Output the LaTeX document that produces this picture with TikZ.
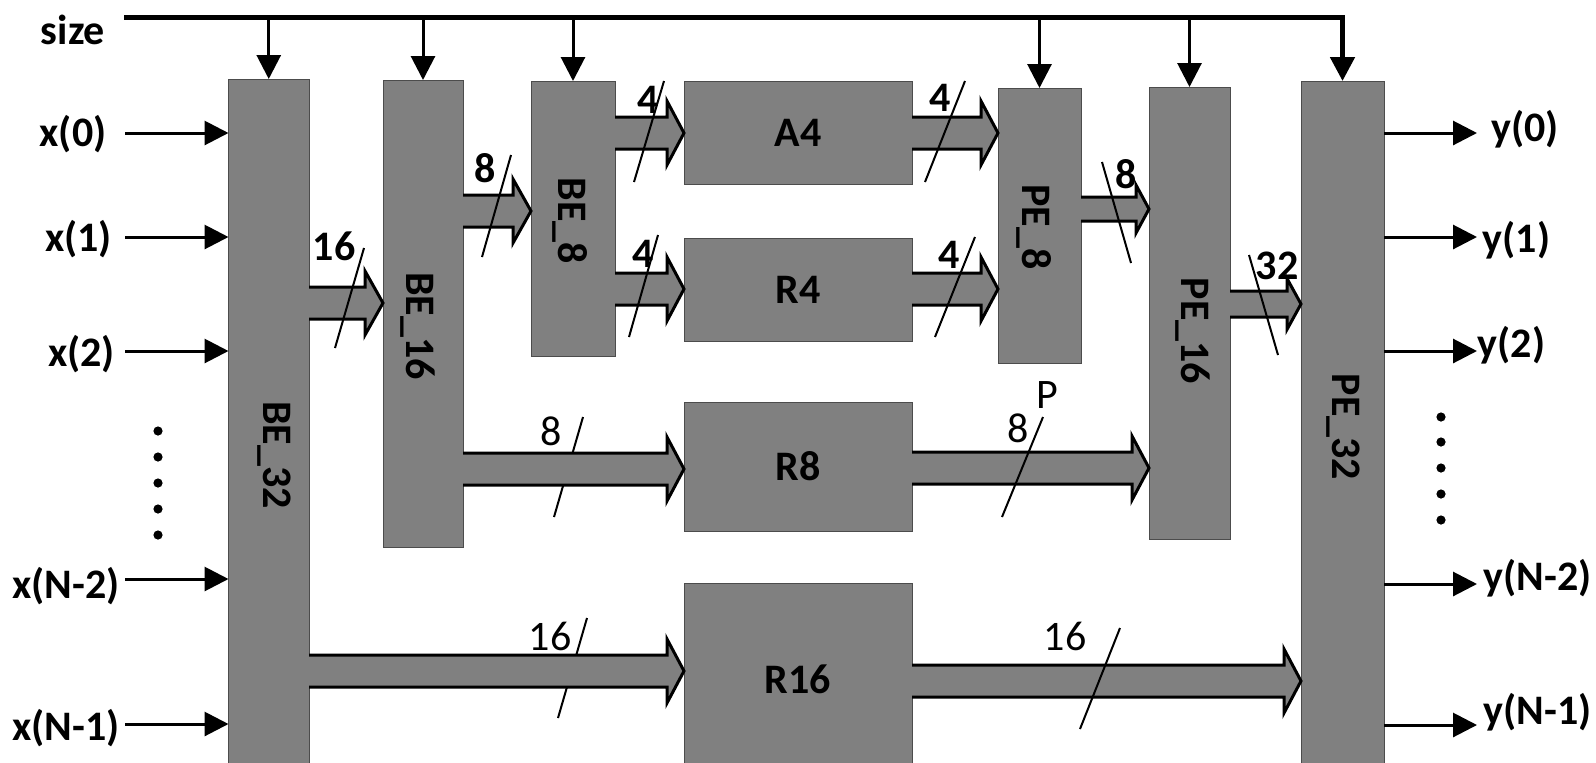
\documentclass[tikz,border=0pt]{standalone}
\usepackage{fontspec}
\setmainfont{Carlito}
\usetikzlibrary{arrows.meta, calc}

% wide arrow between two blocks: from, to, y, half shaft, half head, head length
\newcommand{\fatarrow}[6]{%
  \draw[fat] let \p1=(#1.east |- 0,#3), \p2=(#2.west |- 0,#3) in
    (\x1,\y1+#4) -- (\x2-#6,\y1+#4) -- (\x2-#6,\y1+#5) -- (\x2,\y1)
    -- (\x2-#6,\y1-#5) -- (\x2-#6,\y1-#4) -- (\x1,\y1-#4);}

\begin{document}
\begin{tikzpicture}[
    x=0.5pt, y=-0.5pt,
    blk/.style={draw=black!70, line width=0.5pt, fill=gray, inner sep=0pt, outer sep=0pt, font=\fontsize{21}{25}\selectfont\bfseries},
    lbl/.style={inner sep=0pt, font=\fontsize{21}{25}\selectfont\bfseries},
    numr/.style={inner sep=0pt, font=\fontsize{21}{25}\selectfont},
    wire/.style={line width=1.5pt, -{Triangle[length=12pt, width=12pt]}},
    fat/.style={draw, line width=1.5pt, fill=gray, line join=miter},
    slash/.style={line width=1pt}
]
  \useasboundingbox (0,0) rectangle (1596,762);
  \clip (0,0) rectangle (1596,762);

  % Butterfly stages
  \node[blk, minimum width=40.25pt, minimum height=348pt] (be32) at (268.75,427) {};
  \node[blk, minimum width=40pt, minimum height=233.5pt] (be16) at (423,313.5) {};
  \node[blk, minimum width=42pt, minimum height=137.5pt] (be8) at (573,218.5) {};

  % Kernels
  \node[blk, minimum width=114pt, minimum height=51.5pt] (a4) at (798,132.5) {A4};
  \node[blk, minimum width=114pt, minimum height=51.5pt] (r4) at (798,289.5) {R4};
  \node[blk, minimum width=114pt, minimum height=64.5pt] (r8) at (798,466.5) {R8};
  \node[blk, minimum width=114pt, minimum height=96pt] (r16) at (798,679) {R16};

  % Permutation stages
  \node[blk, minimum width=41.5pt, minimum height=137.5pt] (pe8) at (1039.5,225.5) {};
  \node[blk, minimum width=40.5pt, minimum height=226pt] (pe16) at (1189.5,313) {};
  \node[blk, minimum width=41.5pt, minimum height=347pt] (pe32) at (1342.5,428) {};

  \node[lbl, rotate=-90] (tbe32) at (274,455) {BE\_32};
  \node[lbl, rotate=-90] (tbe16) at (418,326) {BE\_16};
  \node[lbl, rotate=-90] (tbe8) at (570,221) {BE\_8};
  \node[lbl, rotate=-90] (tpe8) at (1034,227) {PE\_8};
  \node[lbl, rotate=-90] (tpe16) at (1193,331) {PE\_16};
  \node[lbl, rotate=-90] (tpe32) at (1343,427) {PE\_32};

  % size bus
  \node[lbl] (size) at (73,30) {size};
  \coordinate (bus) at (124,17);
  \draw[wire, line width=2.5pt] (bus) -- (bus -| pe32.north) -- (pe32.north);
  \foreach \b in {be32, be16, be8, pe8, pe16}
    \draw[wire] (bus -| \b.north) -- (\b.north);

  % slashes under the long arrows
  \draw[slash] (583,417) -- (554,517);
  \draw[slash] (587,618) -- (558,718);

  % data paths
  \fatarrow{be32}{be16}{303}{8pt}{16pt}{9pt}
  \fatarrow{be16}{be8}{211}{8pt}{16pt}{9pt}
  \fatarrow{be8}{a4}{133}{8pt}{16pt}{8.5pt}
  \fatarrow{be8}{r4}{289}{8pt}{16pt}{8.5pt}
  \fatarrow{a4}{pe8}{133}{8pt}{16pt}{8.5pt}
  \fatarrow{r4}{pe8}{289}{8pt}{16pt}{8.5pt}
  \fatarrow{pe8}{pe16}{209}{6pt}{12pt}{6.5pt}
  \fatarrow{pe16}{pe32}{304}{6.5pt}{12.75pt}{7pt}
  \fatarrow{be16}{r8}{469}{8pt}{16pt}{8.5pt}
  \fatarrow{r8}{pe16}{468}{8pt}{16pt}{8.5pt}
  \fatarrow{be32}{r16}{671}{8pt}{16pt}{8.5pt}
  \fatarrow{r16}{pe32}{681}{8pt}{16pt}{8.5pt}

  % bus widths
  \draw[slash] (364,248) -- (335,348);
  \draw[slash] (511,155) -- (482,257);
  \draw[slash] (664,81) -- (634,182);
  \draw[slash] (658,235) -- (629,337);
  \draw[slash] (965,81) -- (925,182);
  \draw[slash] (975,237) -- (935,337);
  \draw[slash] (1102,162) -- (1131,263);
  \draw[slash] (1249,255) -- (1278,355);
  \draw[slash] (1043,417) -- (1002,517);
  \draw[slash] (1120,628) -- (1080,729);

  \node[lbl] (w1) at (334,246) {16};
  \node[lbl] (w2) at (485,168) {8};
  \node[lbl] (w3) at (648,100) {4};
  \node[lbl] (w4) at (643,254) {4};
  \node[lbl] (w5) at (940,98) {4};
  \node[lbl] (w6) at (949,255) {4};
  \node[lbl] (w7) at (1126,174) {8};
  \node[lbl] (w8) at (1277,266) {32};
  \node[numr] (w9) at (551,431) {8};
  \node[numr] (w10) at (550,636) {16};
  \node[numr] (w11) at (1018,428) {8};
  \node[numr] (wp) at (1047,395) {P};
  \node[numr] (w12) at (1065,636) {16};

  % Inputs
  \node[lbl] (x0) at (73,134) {x(0)};
  \node[lbl] (x1) at (78.5,239) {x(1)};
  \node[lbl] (x2) at (81.5,354) {x(2)};
  \node[lbl] (xn2) at (66,586) {x(N-2)};
  \node[lbl] (xn1) at (66,728) {x(N-1)};
  \coordinate (in0) at (125,133);
  \coordinate (in1) at (125,237);
  \coordinate (in2) at (125,351);
  \coordinate (in3) at (125,579);
  \coordinate (in4) at (125,724);
  \foreach \c in {in0, in1, in2, in3, in4}
    \draw[wire] (\c) -- (\c -| be32.west);
  \foreach \y in {431,457,483,509,535}
    \fill (158,\y) circle (2.3pt);

  % Outputs
  \coordinate (out0) at (1477,133);
  \coordinate (out1) at (1477,237);
  \coordinate (out2) at (1477,351);
  \coordinate (out3) at (1477,584);
  \coordinate (out4) at (1477,725);
  \foreach \c in {out0, out1, out2, out3, out4}
    \draw[wire] (\c -| pe32.east) -- (\c);
  \node[lbl] (y0) at (1525,129) {y(0)};
  \node[lbl] (y1) at (1516.5,240) {y(1)};
  \node[lbl] (y2) at (1511.5,345) {y(2)};
  \node[lbl] (yn2) at (1537.5,578) {y(N-2)};
  \node[lbl] (yn1) at (1537.5,712) {y(N-1)};
  \foreach \y in {417,442,468,494,520}
    \fill (1441,\y) circle (2.3pt);
\end{tikzpicture}
\end{document}
